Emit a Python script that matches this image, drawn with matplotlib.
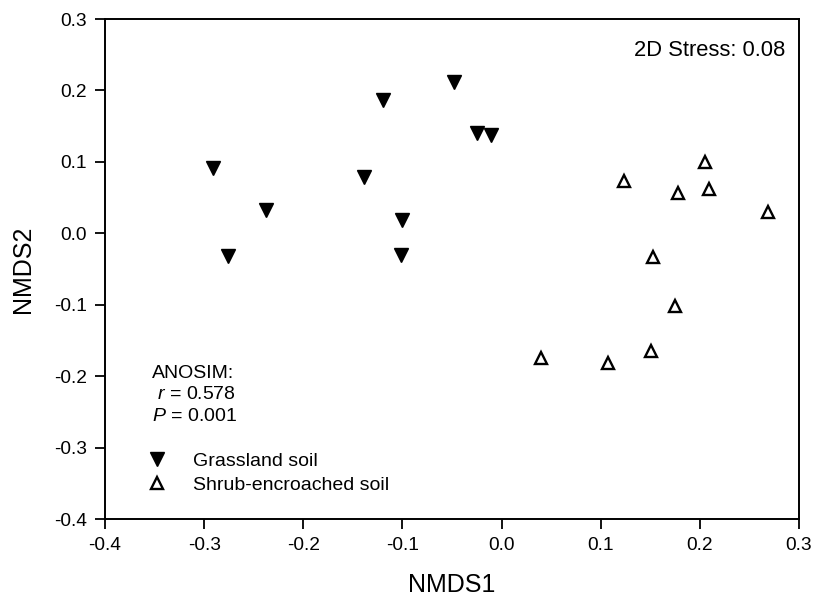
import numpy as np
import matplotlib.pyplot as plt

plt.rcParams['font.family'] = ['Liberation Sans', 'DejaVu Sans']
plt.rcParams['mathtext.fontset'] = 'custom'
plt.rcParams['mathtext.rm'] = 'Liberation Sans'
plt.rcParams['mathtext.it'] = 'Liberation Sans:italic'

# NMDS scores
grass_x = [-0.291, -0.276, -0.238, -0.139, -0.120, -0.100, -0.101, -0.048, -0.025, -0.011]
grass_y = [0.091, -0.032, 0.033, 0.079, 0.187, 0.018, -0.030, 0.212, 0.140, 0.137]

shrub_x = [0.123, 0.153, 0.178, 0.205, 0.209, 0.269, 0.175, 0.040, 0.107, 0.151]
shrub_y = [0.073, -0.033, 0.056, 0.100, 0.062, 0.030, -0.102, -0.175, -0.182, -0.165]

ticks = np.arange(-0.4, 0.31, 0.1)
tick_labels = ['-0.4', '-0.3', '-0.2', '-0.1', '0.0', '0.1', '0.2', '0.3']

fig = plt.figure(figsize=(8.14, 6.01), dpi=100)
ax = fig.add_axes([105/814, 1 - 519/601, 694/814, 500/601])

ax.plot(grass_x, grass_y, 'v', color='black', markersize=9.6, linestyle='none',
        label='Grassland soil')
ax.plot(shrub_x, shrub_y, '^', markerfacecolor='white', markeredgecolor='black',
        markeredgewidth=1.7, markersize=8.5, linestyle='none',
        label='Shrub-encroached soil')

ax.set_xlim(-0.4, 0.3)
ax.set_ylim(-0.4, 0.3)
ax.set_xticks(ticks)
ax.set_xticklabels(tick_labels)
ax.set_yticks(ticks)
ax.set_yticklabels(tick_labels)
ax.tick_params(direction='out', length=7, width=1.3, labelsize=13.8, pad=6)

for s in ax.spines.values():
    s.set_linewidth(1.4)

ax.set_xlabel('NMDS1', fontsize=18, labelpad=14)
ax.set_ylabel('NMDS2', fontsize=18, labelpad=14)

ax.text(0.98, 0.937, '2D Stress: 0.08', transform=ax.transAxes,
        ha='right', va='center', fontsize=15.8)

ax.text(0.068, 0.308, 'ANOSIM:\n $\\it{r}$ = 0.578\n$\\it{P}$ = 0.001',
        transform=ax.transAxes, ha='left', va='top', fontsize=14,
        linespacing=1.33)

ax.legend(loc='lower left', bbox_to_anchor=(0.043, 0.035), frameon=False,
          fontsize=14, handletextpad=1.1, labelspacing=0.3,
          borderaxespad=0, handlelength=1.5)

fig.savefig('out.png', dpi=100)
